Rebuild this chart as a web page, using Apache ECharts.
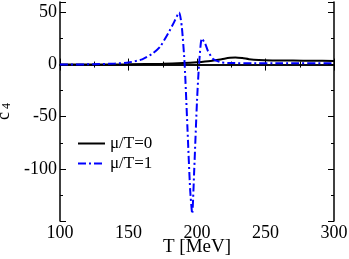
<!DOCTYPE html>
<html><head><meta charset="utf-8">
<script src="https://cdn.jsdelivr.net/npm/echarts@6/dist/echarts.min.js"></script>
<style>html,body{margin:0;padding:0;background:#fff}#c{width:349px;height:259px}</style>
</head><body><div id="c"></div>
<script>
const T0 = [100,125,150,175,190,200,210,218,224,228,233,238,245,255,270,285,300];
const c0 = [0,0.1,0.3,0.8,1.5,2.3,3.5,5.2,6.5,6.9,6.3,5.2,4.4,4.0,3.8,3.6,3.5];
const T1 = [100,125,140,150,160,168,173,179,183,187,189,191,193,195,196.5,198,200,201.5,203.5,206,208,212,218,225,240,260,300];
const c1 = [0,0.3,1,2,5,11,17,30,40,50,35,0,-60,-120,-143,-100,-35,0,25,20,13,5,2,1.5,1.2,1.2,1.2];
const xTicks = [100,150,200,250,300];
const yTicks = [-100,-50,0,50];
const F = '"Liberation Serif","DejaVu Serif",serif';
const chart = echarts.init(document.getElementById('c'));
const axisLine = {lineStyle:{color:'#000',width:1.5}};
chart.setOption({
  animation:false,
  grid:{left:60,right:15,top:2,bottom:38,outerBoundsMode:'none',containLabel:false},
  legend:{orient:'vertical',left:72,top:130,itemWidth:27,itemHeight:10,itemGap:3,
    itemStyle:{opacity:0},
    textStyle:{fontFamily:F,fontSize:17,color:'#000'},
    data:['μ/T=0','μ/T=1']},
  xAxis:[{type:'value',min:100,max:300,interval:50,
    name:'T [MeV]',nameLocation:'middle',nameGap:17,nameMoveOverlap:false,
    nameTextStyle:{fontFamily:F,fontSize:19,color:'#000'},
    axisLine:axisLine,axisTick:{inside:true,length:6,lineStyle:{color:'#000'}},
    minorTick:{show:true,splitNumber:2,length:3,lineStyle:{color:'#000'}},
    axisLabel:{fontFamily:F,fontSize:18,color:'#000',margin:3,
      formatter:v=>xTicks.includes(v)?String(v):''},
    splitLine:{show:false}},
   {type:'value',position:'top',min:100,max:300,interval:50,
    axisLine:axisLine,axisTick:{inside:true,length:6,lineStyle:{color:'#000'}},
    minorTick:{show:true,splitNumber:2,length:3,lineStyle:{color:'#000'}},
    axisLabel:{show:false},splitLine:{show:false}}],
  yAxis:[{type:'value',min:-150,max:60,interval:50,
    name:'c{s|4}',nameLocation:'middle',nameGap:47,nameRotate:90,nameMoveOverlap:false,
    nameTextStyle:{fontFamily:F,fontSize:18,color:'#000',rich:{s:{fontFamily:F,fontSize:12,verticalAlign:'bottom',padding:[0,0,0,3]}}},
    axisLine:axisLine,axisTick:{inside:true,length:6,lineStyle:{color:'#000'}},
    minorTick:{show:true,splitNumber:2,length:3,lineStyle:{color:'#000'}},
    axisLabel:{fontFamily:F,fontSize:18,color:'#000',margin:3,
      formatter:v=>yTicks.includes(v)?String(v):'',showMaxLabel:false},
    splitLine:{show:false}},
   {type:'value',position:'right',min:-150,max:60,interval:50,
    axisLine:axisLine,axisTick:{inside:true,length:6,lineStyle:{color:'#000'}},
    minorTick:{show:true,splitNumber:2,length:3,lineStyle:{color:'#000'}},
    axisLabel:{show:false},splitLine:{show:false}}],
  series:[
    {name:'μ/T=0',type:'line',symbol:'none',smooth:0.3,color:'#000',
      lineStyle:{color:'#000',width:2},data:T0.map((t,i)=>[t,c0[i]])},
    {name:'μ/T=1',type:'line',symbol:'none',smooth:0.2,color:'#0000ff',
      lineStyle:{color:'#0000ff',width:2,type:[8,3,2,3]},data:T1.map((t,i)=>[t,c1[i]])}
  ]
});
</script></body></html>
